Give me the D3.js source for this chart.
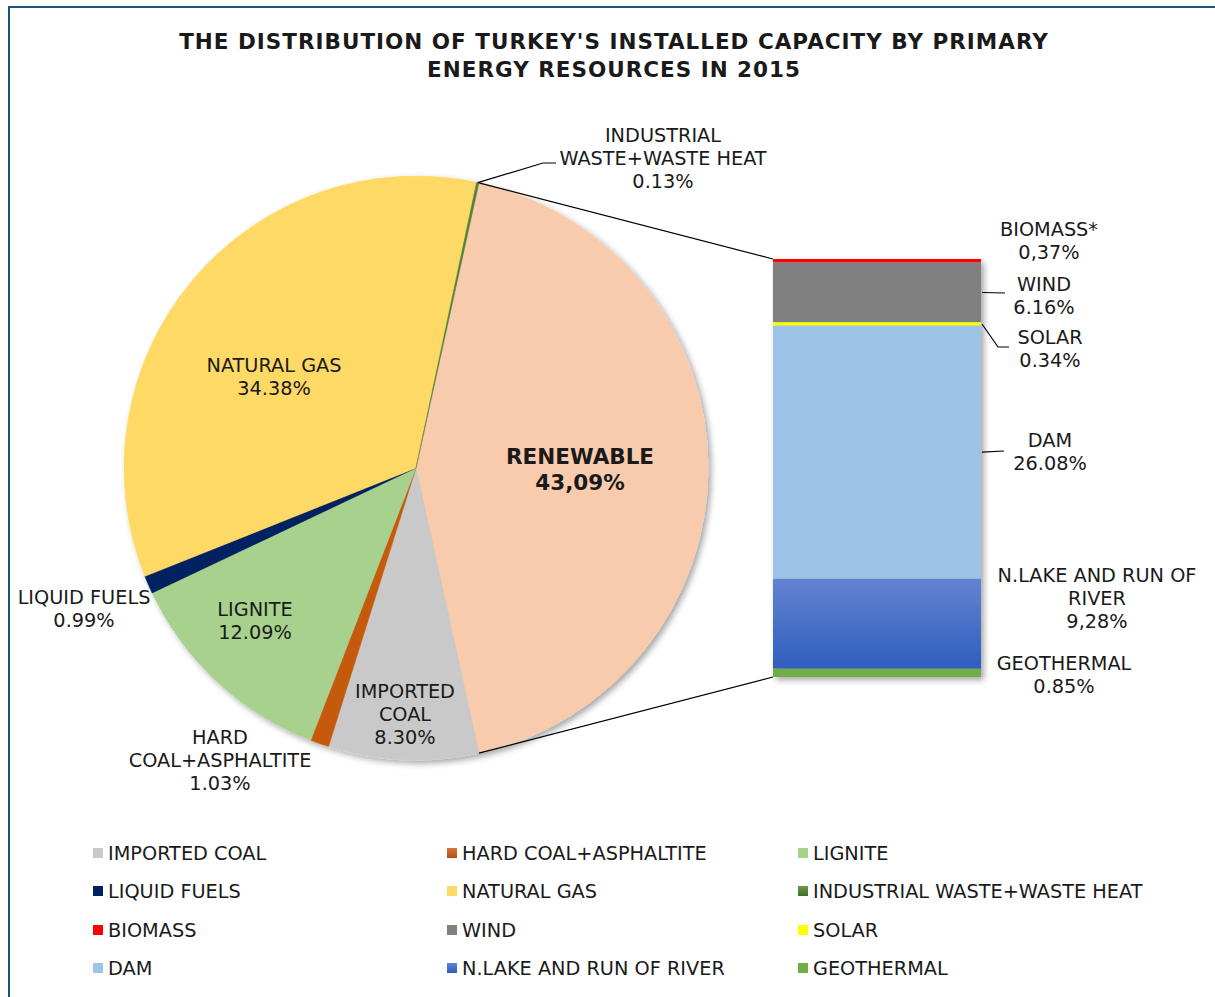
<!DOCTYPE html>
<html>
<head>
<meta charset="utf-8">
<script src="https://cdn.jsdelivr.net/npm/d3@7"></script>
<style>
  html, body { margin: 0; padding: 0; background: #fff; }
  svg { display: block; }
  text { font-family: "DejaVu Sans", Verdana, sans-serif; fill: #1a1a1a; }
</style>
</head>
<body>
<svg id="chart" width="1215" height="997"></svg>
<script>
// ---- data ----
const pieCategories = ["RENEWABLE", "IMPORTED COAL", "HARD COAL+ASPHALTITE", "LIGNITE",
                       "LIQUID FUELS", "NATURAL GAS", "INDUSTRIAL WASTE+WASTE HEAT"];
const pieValues = [43.09, 8.30, 1.03, 12.09, 0.99, 34.38, 0.13];
const pieValueText = ["43,09%", "8.30%", "1.03%", "12.09%", "0.99%", "34.38%", "0.13%"];

const barCategories = ["BIOMASS", "WIND", "SOLAR", "DAM", "N.LAKE AND RUN OF RIVER", "GEOTHERMAL"];
const barValues = [0.37, 6.16, 0.34, 26.08, 9.28, 0.85];
const barValueText = ["0,37%", "6.16%", "0.34%", "26.08%", "9,28%", "0.85%"];

const legendOrder = ["IMPORTED COAL", "HARD COAL+ASPHALTITE", "LIGNITE",
                     "LIQUID FUELS", "NATURAL GAS", "INDUSTRIAL WASTE+WASTE HEAT",
                     "BIOMASS", "WIND", "SOLAR",
                     "DAM", "N.LAKE AND RUN OF RIVER", "GEOTHERMAL"];

const titleLines = ["THE DISTRIBUTION OF TURKEY'S INSTALLED CAPACITY BY PRIMARY",
                    "ENERGY RESOURCES IN 2015"];

// ---- styling ----
const colors = {
  "RENEWABLE": "#F8CBAD",
  "IMPORTED COAL": "#C9C9C9",
  "HARD COAL+ASPHALTITE": "#C55A11",
  "LIGNITE": "#A9D18E",
  "LIQUID FUELS": "#002060",
  "NATURAL GAS": "#FFD966",
  "INDUSTRIAL WASTE+WASTE HEAT": "#548235",
  "BIOMASS": "#FF0000",
  "WIND": "#808080",
  "SOLAR": "#FFFF00",
  "DAM": "#9DC3E6",
  "N.LAKE AND RUN OF RIVER": "url(#gradBlue)",
  "GEOTHERMAL": "#70AD47"
};
const legendFill = Object.assign({}, colors, {
  "HARD COAL+ASPHALTITE": "url(#gradOrange)",
  "INDUSTRIAL WASTE+WASTE HEAT": "url(#gradGreen)"
});

// label layout: centre x, first line y, lines
const pieLabelLayout = {
  "RENEWABLE": { x: 580, y: 456, lines: ["RENEWABLE"], bold: true },
  "IMPORTED COAL": { x: 405, y: 691, lines: ["IMPORTED", "COAL"] },
  "HARD COAL+ASPHALTITE": { x: 220, y: 737, lines: ["HARD", "COAL+ASPHALTITE"] },
  "LIGNITE": { x: 255, y: 609, lines: ["LIGNITE"] },
  "LIQUID FUELS": { x: 84, y: 597, lines: ["LIQUID FUELS"] },
  "NATURAL GAS": { x: 274, y: 365, lines: ["NATURAL GAS"] },
  "INDUSTRIAL WASTE+WASTE HEAT": { x: 663, y: 135, lines: ["INDUSTRIAL", "WASTE+WASTE HEAT"] }
};
const barLabelLayout = {
  "BIOMASS": { x: 1049, y: 229, lines: ["BIOMASS*"] },
  "WIND": { x: 1044, y: 284, lines: ["WIND"] },
  "SOLAR": { x: 1050, y: 337, lines: ["SOLAR"] },
  "DAM": { x: 1050, y: 440, lines: ["DAM"] },
  "N.LAKE AND RUN OF RIVER": { x: 1097, y: 575, lines: ["N.LAKE AND RUN OF", "RIVER"] },
  "GEOTHERMAL": { x: 1064, y: 663, lines: ["GEOTHERMAL"] }
};

const svg = d3.select("#chart");
const defs = svg.append("defs");

const shadow = defs.append("filter").attr("id", "shadow")
  .attr("x", "-10%").attr("y", "-10%").attr("width", "125%").attr("height", "125%");
shadow.append("feDropShadow").attr("dx", 3).attr("dy", 3).attr("stdDeviation", 3)
  .attr("flood-color", "#000").attr("flood-opacity", 0.35);

function vGrad(id, top, bottom) {
  const g = defs.append("linearGradient").attr("id", id)
    .attr("x1", 0).attr("y1", 0).attr("x2", 0).attr("y2", 1);
  g.append("stop").attr("offset", "0%").attr("stop-color", top);
  g.append("stop").attr("offset", "100%").attr("stop-color", bottom);
}
vGrad("gradBlue", "#6283D0", "#2E5EBD");
vGrad("gradOrange", "#D2773A", "#B5500E");
vGrad("gradGreen", "#6A9A48", "#42702A");

// chart frame
svg.append("rect").attr("x", 9).attr("y", 7).attr("width", 1240).attr("height", 1020)
  .attr("fill", "none").attr("stroke", "#1F4E79").attr("stroke-width", 2);

// title
svg.append("g").selectAll("text").data(titleLines).join("text")
  .attr("x", 614).attr("y", (d, i) => 49 + i * 28)
  .attr("text-anchor", "middle")
  .style("font-weight", "bold").style("font-size", "21.5px").style("letter-spacing", "1px")
  .text(d => d);

// ---- pie ----
const cx = 416, cy = 468, R = 292;
const total = d3.sum(pieValues);
const renewShare = pieValues[0] / total;
// the split-off slice is centred on the right-hand horizontal
const startAngle = Math.PI / 2 - renewShare * Math.PI;

const pieData = pieCategories.map((c, i) => ({ name: c, value: pieValues[i], label: pieValueText[i] }));
const arcs = d3.pie().sort(null).value(d => d.value)
  .startAngle(startAngle).endAngle(startAngle + 2 * Math.PI)(pieData);
const arc = d3.arc().innerRadius(0).outerRadius(R);

const pieG = svg.append("g").attr("transform", `translate(${cx},${cy})`);
pieG.append("g").attr("filter", "url(#shadow)")
  .selectAll("path").data(arcs).join("path")
  .attr("d", arc)
  .attr("fill", d => colors[d.data.name])
  .attr("stroke", d => colors[d.data.name]).attr("stroke-width", 0.5);

function onCircle(angle, r) {
  return [cx + r * Math.sin(angle), cy - r * Math.cos(angle)];
}

// ---- bar ----
const barX = 773, barW = 208;
const barTotal = d3.sum(barValues);
const y = d3.scaleLinear().domain([0, barTotal]).range([259, 677]);
let acc = 0;
const barData = barCategories.map((c, i) => {
  const d = { name: c, value: barValues[i], label: barValueText[i], y0: acc, y1: acc + barValues[i] };
  acc += barValues[i];
  return d;
});

// connector lines from the renewable slice to the bar
const renew = arcs[0];
const pTop = onCircle(renew.startAngle, R);
const pBot = onCircle(renew.endAngle, R);
svg.append("line").attr("x1", pTop[0]).attr("y1", pTop[1]).attr("x2", barX).attr("y2", y(0))
  .attr("stroke", "#000").attr("stroke-width", 1.2);
svg.append("line").attr("x1", pBot[0]).attr("y1", pBot[1]).attr("x2", barX).attr("y2", y(barTotal))
  .attr("stroke", "#000").attr("stroke-width", 1.2);

svg.append("g").attr("filter", "url(#shadow)")
  .selectAll("rect").data(barData).join("rect")
  .attr("x", barX).attr("width", barW)
  .attr("y", d => y(d.y0)).attr("height", d => y(d.y1) - y(d.y0))
  .attr("fill", d => colors[d.name]);

// ---- labels ----
const FS = 19.3, LH = 23;
function drawLabel(g, lay, valueText, bold) {
  const lines = lay.lines.concat([valueText]);
  const t = g.append("text").attr("text-anchor", "middle")
    .style("font-size", bold ? "21.5px" : FS + "px")
    .style("font-weight", bold ? "bold" : "normal");
  lines.forEach((ln, i) => {
    t.append("tspan").attr("x", lay.x).attr("y", lay.y + i * (bold ? 26 : LH)).attr("dy", "0.36em").text(ln);
  });
}
const labelG = svg.append("g");
arcs.forEach(a => drawLabel(labelG, pieLabelLayout[a.data.name], a.data.label, pieLabelLayout[a.data.name].bold));
barData.forEach(d => drawLabel(labelG, barLabelLayout[d.name], d.label, false));

// leader lines
const leader = d3.line();
const ind = arcs[6];
const pInd = onCircle((ind.startAngle + ind.endAngle) / 2, R);
const leaders = [
  [pInd, [543, 163], [556, 163]],
  [[barX + barW + 1, y((barData[1].y0 + barData[1].y1) / 2)], [1005, 293]],
  [[barX + barW + 1, y((barData[2].y0 + barData[2].y1) / 2)], [998, 347], [1009, 347]],
  [[barX + barW + 1, y((barData[3].y0 + barData[3].y1) / 2)], [1004, 451]]
];
svg.append("g").selectAll("path").data(leaders).join("path")
  .attr("d", d => leader(d)).attr("fill", "none").attr("stroke", "#000").attr("stroke-width", 1.2);

// ---- legend ----
const legCols = [93, 447, 798];
const legRows = [853, 891, 930, 968];
const legG = svg.append("g");
legendOrder.forEach((name, i) => {
  const lx = legCols[i % 3], ly = legRows[Math.floor(i / 3)];
  legG.append("rect").attr("x", lx).attr("y", ly - 5).attr("width", 10).attr("height", 10)
    .attr("fill", legendFill[name]);
  legG.append("text").attr("x", lx + 15).attr("y", ly).attr("dy", "0.36em")
    .style("font-size", FS + "px").text(name);
});
</script>
</body>
</html>
